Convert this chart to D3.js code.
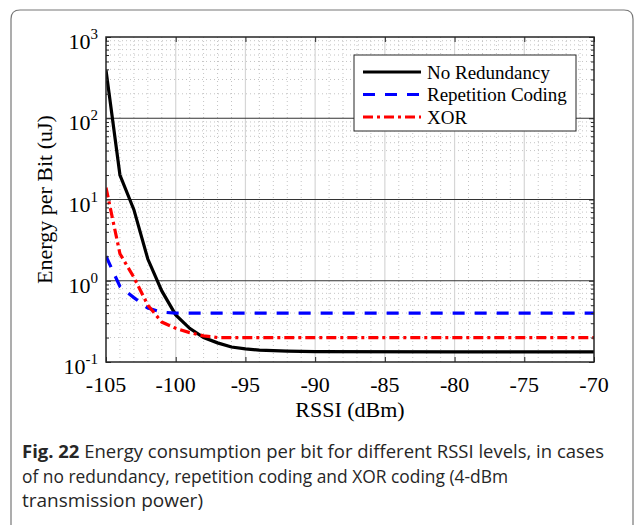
<!DOCTYPE html>
<html>
<head>
<meta charset="utf-8">
<script src="https://cdn.jsdelivr.net/npm/d3@7"></script>
<style>
  body { margin: 0; background: #fff; }
  svg { display: block; }
</style>
</head>
<body>
<svg id="chart"></svg>
<script>
var w = 635, h = 525;

// data
var rssi = [-105, -104, -103, -102, -101, -100, -99, -98, -97, -96, -95, -94, -93, -92, -91, -90, -80, -70];
var noRedundancy = [390, 20, 7.5, 1.85, 0.75, 0.38, 0.26, 0.2, 0.172, 0.153, 0.145, 0.14, 0.138, 0.136, 0.135, 0.134, 0.133, 0.133];
var repRssi = [-105, -104, -103, -102, -101, -100, -70];
var repetition = [2.0, 0.85, 0.62, 0.46, 0.41, 0.4, 0.4];
var xorRssi = [-105, -104, -103, -102, -101, -100, -99, -98, -97, -70];
var xorCoding = [14, 2.15, 1.1, 0.5, 0.31, 0.26, 0.23, 0.21, 0.2, 0.2];
var xTicks = [-105, -100, -95, -90, -85, -80, -75, -70];
var yExps = [-1, 0, 1, 2, 3];
var legendNames = ["No Redundancy", "Repetition Coding", "XOR"];
var captionLines = [
  ["Fig. 22", " Energy consumption per bit for different RSSI levels, in cases"],
  ["", "of no redundancy, repetition coding and XOR coding (4-dBm"],
  ["", "transmission power)"]
];
var captionWidths = [582, 486, 181];

var svg = d3.select("#chart").attr("width", w).attr("height", h);

// frame around figure (open at bottom)
svg.append("path")
  .attr("d", "M11,530 L11,19 Q11,10 20,10 L624,10 Q633,10 633,19 L633,530")
  .attr("fill", "none").attr("stroke", "#777").attr("stroke-width", 1.2);

var x = d3.scaleLinear().domain([-105, -70]).range([106, 594]);
var y = d3.scaleLog().domain([0.1, 1000]).range([362, 37]);
var L = x.range()[0], R = x.range()[1], T = y.range()[1], B = y.range()[0];

var defs = svg.append("defs");
defs.append("clipPath").attr("id", "clip")
  .append("rect").attr("x", L).attr("y", T).attr("width", R - L).attr("height", B - T);

// minor grid
var minorX = d3.range(-104, -70, 1).filter(function (d) { return d % 5 != 0; });
var minorY = [];
yExps.slice(0, -1).forEach(function (e) {
  for (var k = 2; k <= 9; k++) minorY.push(k * Math.pow(10, e));
});
var grid = svg.append("g");
grid.selectAll(".mx").data(minorX).enter().append("line")
  .attr("x1", d => x(d)).attr("x2", d => x(d)).attr("y1", T).attr("y2", B)
  .attr("stroke", "#c4c4c4").attr("stroke-width", 1).attr("stroke-dasharray", "1,3");
grid.selectAll(".my").data(minorY).enter().append("line")
  .attr("x1", L).attr("x2", R).attr("y1", d => y(d)).attr("y2", d => y(d))
  .attr("stroke", "#c4c4c4").attr("stroke-width", 1).attr("stroke-dasharray", "1,3");
// major grid
grid.selectAll(".gx").data(xTicks.slice(1, -1)).enter().append("line")
  .attr("x1", d => x(d)).attr("x2", d => x(d)).attr("y1", T).attr("y2", B)
  .attr("stroke", "#d6d6d6").attr("stroke-width", 1.2);
grid.selectAll(".gy").data(yExps.slice(1, -1)).enter().append("line")
  .attr("x1", L).attr("x2", R).attr("y1", d => y(Math.pow(10, d))).attr("y2", d => y(Math.pow(10, d)))
  .attr("stroke", "#333").attr("stroke-width", 1.1);

// series
var line = d3.line().x(d => x(d[0])).y(d => y(d[1]));
var series = [
  { xs: rssi, ys: noRedundancy, color: "#000", dash: null },
  { xs: repRssi, ys: repetition, color: "#0000ff", dash: "12,10" },
  { xs: xorRssi, ys: xorCoding, color: "#ff0000", dash: "10,4,3,4" }
];
var plot = svg.append("g").attr("clip-path", "url(#clip)");
series.forEach(function (s) {
  plot.append("path")
    .datum(d3.zip(s.xs, s.ys))
    .attr("d", line)
    .attr("fill", "none")
    .attr("stroke", s.color)
    .attr("stroke-width", 3.2)
    .attr("stroke-dasharray", s.dash);
});

// axes (ticks inward, box)
var axisColor = "#262626";
function styleAxis(g) {
  g.select(".domain").remove();
  g.selectAll("line").attr("stroke", axisColor).attr("stroke-width", 1);
  g.selectAll("text").remove();
}
var majorY = yExps.map(e => Math.pow(10, e));
svg.append("g").attr("transform", "translate(0," + B + ")")
  .call(d3.axisBottom(x).tickValues(xTicks).tickSize(-5)).call(styleAxis);
svg.append("g").attr("transform", "translate(0," + T + ")")
  .call(d3.axisTop(x).tickValues(xTicks).tickSize(-5)).call(styleAxis);
svg.append("g").attr("transform", "translate(" + L + ",0)")
  .call(d3.axisLeft(y).tickValues(majorY).tickSize(-5)).call(styleAxis);
svg.append("g").attr("transform", "translate(" + R + ",0)")
  .call(d3.axisRight(y).tickValues(majorY).tickSize(-5)).call(styleAxis);
svg.append("g").attr("transform", "translate(" + L + ",0)")
  .call(d3.axisLeft(y).tickValues(minorY).tickSize(-3)).call(styleAxis);
svg.append("g").attr("transform", "translate(" + R + ",0)")
  .call(d3.axisRight(y).tickValues(minorY).tickSize(-3)).call(styleAxis);

svg.append("rect").attr("x", L).attr("y", T).attr("width", R - L).attr("height", B - T)
  .attr("fill", "none").attr("stroke", axisColor).attr("stroke-width", 1.5);

// tick labels
var serif = "'Liberation Serif', 'Times New Roman', serif";
svg.append("g").selectAll("text").data(xTicks).enter().append("text")
  .attr("x", d => x(d)).attr("y", B + 30)
  .attr("text-anchor", "middle")
  .attr("font-family", serif).attr("font-size", 22).attr("fill", "#000")
  .text(d => d);

var yl = svg.append("g").selectAll("text").data(yExps).enter().append("text")
  .attr("x", L - 8).attr("y", d => y(Math.pow(10, d)) + 12)
  .attr("text-anchor", "end")
  .attr("font-family", serif).attr("font-size", 22).attr("fill", "#000");
yl.append("tspan").text("10");
yl.append("tspan").attr("dy", -10).attr("font-size", 15).text(d => d);

// axis titles
svg.append("text").attr("x", x(-87.5)).attr("y", 417)
  .attr("text-anchor", "middle").attr("font-family", serif).attr("font-size", 22)
  .text("RSSI (dBm)");
svg.append("text").attr("transform", "translate(52," + ((T + B) / 2) + ") rotate(-90)")
  .attr("text-anchor", "middle").attr("font-family", serif).attr("font-size", 22)
  .text("Energy per Bit (uJ)");

// legend
var lg = svg.append("g");
lg.append("rect").attr("x", 354).attr("y", 55).attr("width", 222).attr("height", 76)
  .attr("fill", "#fff").attr("stroke", axisColor).attr("stroke-width", 1);
series.forEach(function (s, i) {
  var cy = 72 + i * 22.5;
  lg.append("line").attr("x1", 363).attr("x2", 421).attr("y1", cy).attr("y2", cy)
    .attr("stroke", s.color).attr("stroke-width", 3.2).attr("stroke-dasharray", s.dash);
  lg.append("text").attr("x", 427).attr("y", cy + 6.5)
    .attr("font-family", serif).attr("font-size", 19).text(legendNames[i]);
});

// caption, each line squeezed to the width it has in the figure
var cap = svg.append("g");
var capFont = "'Open Sans', 'Noto Sans', sans-serif";
captionLines.forEach(function (ln, i) {
  var t = cap.append("text").attr("x", 22).attr("y", 458 + i * 24.5)
    .attr("font-family", capFont).attr("font-size", 17.5).attr("fill", "#262626")
    .attr("textLength", captionWidths[i]).attr("lengthAdjust", "spacingAndGlyphs");
  if (ln[0]) t.append("tspan").attr("font-weight", "bold").text(ln[0]);
  t.append("tspan").text(ln[1]);
});
</script>
</body>
</html>
